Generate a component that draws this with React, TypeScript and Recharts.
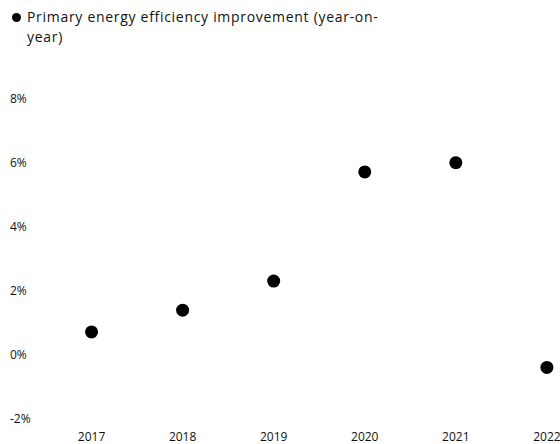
import React from "react";
import { ScatterChart, Scatter, XAxis, YAxis } from "recharts";

const years = [2017, 2018, 2019, 2020, 2021, 2022];
const improvement = [0.69, 1.37, 2.28, 5.69, 5.98, -0.42];
const yTicks = [-2, 0, 2, 4, 6, 8];
const seriesName = "Primary energy efficiency improvement (year-on-year)";

const data = years.map((year, i) => ({ year, value: improvement[i] }));

const FONT = "'Open Sans', sans-serif";

const YTick = (props: any) => {
  const { y, payload } = props;
  return (
    <text x={10} y={y} textAnchor="start" dominantBaseline="central" fontSize={12} fontFamily={FONT} fill="#111">
      {`${payload.value}%`}
    </text>
  );
};

const Dot = (props: any) => <circle cx={props.cx} cy={props.cy} r={6.5} fill="#000" />;

const App: React.FC = () => {
  return (
    <div style={{ position: "absolute", left: 0, top: 0, width: 560, height: 444, background: "#fff" }}>
      <div
        style={{
          position: "absolute",
          left: 12,
          top: 7,
          display: "flex",
          alignItems: "flex-start",
          fontFamily: FONT,
          fontSize: 14,
          lineHeight: "20px",
          letterSpacing: "0.7px",
          color: "#111",
        }}
      >
        <span
          style={{
            display: "inline-block",
            width: 9,
            height: 9,
            borderRadius: "50%",
            background: "#000",
            marginTop: 6,
            marginRight: 6,
            flexShrink: 0,
          }}
        />
        <span style={{ maxWidth: 365 }}>{seriesName}</span>
      </div>
      <ScatterChart width={560} height={444} margin={{ top: 98, right: 4, bottom: 0, left: 0 }}>
        <XAxis
          type="number"
          dataKey="year"
          domain={[2016.5, 2022.1]}
          ticks={years}
          allowDataOverflow
          axisLine={false}
          tickLine={false}
          tickMargin={8}
          height={26}
          tick={{ fontSize: 12, fontFamily: FONT, fill: "#111" }}
        />
        <YAxis
          type="number"
          dataKey="value"
          domain={[-2, 8]}
          ticks={yTicks}
          width={46}
          axisLine={false}
          tickLine={false}
          tick={<YTick />}
        />
        <Scatter name={seriesName} data={data} shape={<Dot />} isAnimationActive={false} />
      </ScatterChart>
    </div>
  );
};

export default App;
